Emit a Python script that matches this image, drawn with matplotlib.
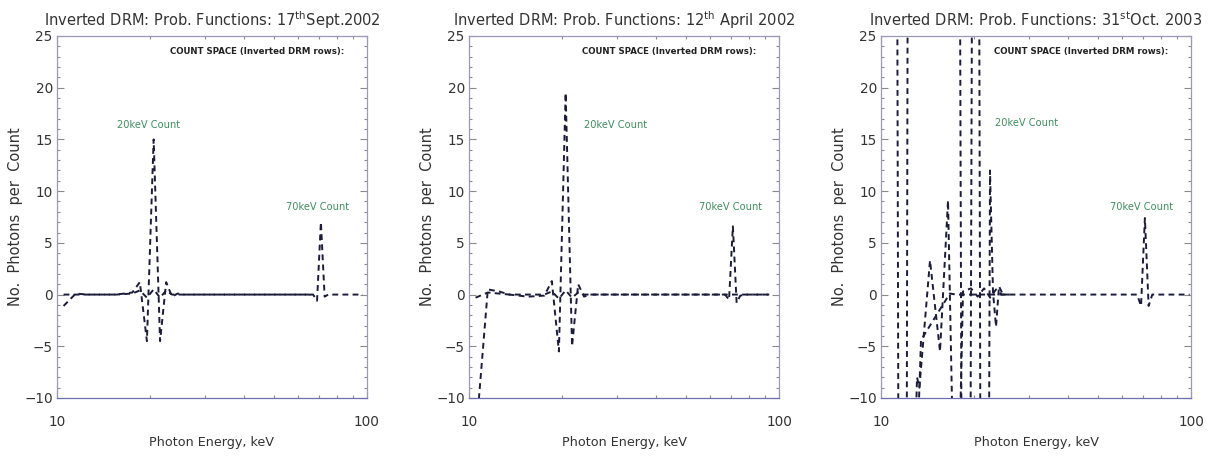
import matplotlib
matplotlib.use('Agg')
import matplotlib.pyplot as plt
from matplotlib import font_manager as fm
from matplotlib.ticker import FixedLocator, NullFormatter, FixedFormatter, MultipleLocator

# ---------------- data ----------------
titles = [
    r"Inverted DRM: Prob. Functions: 17$^{\rm th}$Sept.2002",
    r"Inverted DRM: Prob. Functions: 12$^{\rm th}$ April 2002",
    r"Inverted DRM: Prob. Functions: 31$^{\rm st}$Oct. 2003",
]
xlabel = "Photon Energy, keV"
ylabel = "No.  Photons  per  Count"
note = "COUNT SPACE (Inverted DRM rows):"
label20 = "20keV Count"
label70 = "70keV Count"
xticks = [10, 100]
xticklabels = ["10", "100"]
yticks = [-10, -5, 0, 5, 10, 15, 20, 25]

# panel 1 (17 Sept 2002)
p1_row20_e = [10.5, 11.5, 12.5, 13.5, 14.5, 15.5, 16.5, 17.5, 18.5, 19.5, 20.5, 21.5, 22.5,
              23.5, 24.5, 25.5, 27.5, 29.5, 33, 37, 41, 45, 49, 53, 57, 61, 65, 67]
p1_row20_v = [-1.1, 0.1, 0.0, 0.0, 0.0, 0.0, 0.1, 0.2, 1.2, -4.5, 15.0, -4.5, 1.2,
              -0.2, 0.1, 0.0, 0.0, 0.0, 0.0, 0.0, 0.0, 0.0, 0.0, 0.0, 0.0, 0.0, 0.0, -0.1]
p1_row70_e = [10.5, 11.5, 13.5, 15.5, 17.5, 18.5, 19.5, 20.5, 21.5, 22.5, 23.5, 25.5, 29.5,
              35, 41, 47, 53, 59, 65, 67, 69, 71, 73, 75, 79, 83, 87, 91, 95, 97]
p1_row70_v = [0.0, 0.0, 0.0, 0.0, 0.1, 0.4, -0.3, 0.5, -0.3, 0.4, 0.0, 0.0, 0.0,
              0.0, 0.0, 0.0, 0.0, 0.0, 0.0, 0.0, -0.6, 7.0, -0.2, 0.0, 0.0, 0.0, 0.0, 0.0, 0.0, 0.0]

# panel 2 (12 April 2002)
p2_row20_e = [10.5, 11.5, 12.5, 13.5, 15.5, 17.5, 18.5, 19.5, 20.5, 21.5, 22.5, 23.5, 24.5,
              27.5, 33, 41, 49, 57, 65, 73, 81, 89, 93]
p2_row20_v = [-14.0, 0.5, 0.3, 0.0, -0.2, -0.1, 1.3, -5.5, 19.5, -5.0, 1.0, -0.2, 0.0,
              0.0, 0.0, 0.0, 0.0, 0.0, 0.0, 0.0, 0.0, 0.0, 0.0]
p2_row70_e = [10.5, 11.5, 13.5, 15.5, 17.5, 18.5, 19.5, 20.5, 21.5, 22.5, 23.5, 27.5,
              35, 45, 55, 63, 67, 69, 71, 73, 75, 79, 85, 93]
p2_row70_v = [-0.3, 0.2, 0.0, 0.0, 0.0, 0.3, -0.4, 0.4, -0.3, 0.2, 0.0, 0.0,
              0.0, 0.0, 0.0, 0.0, 0.0, -0.5, 6.6, -0.8, -0.1, 0.0, 0.0, 0.0]

# panel 3 (31 Oct 2003)  -- rows oscillate strongly, off-scale values estimated
p3_row20_e = [10.93, 11.78, 12.50, 17.46, 18.80, 20.25, 21.49, 22.47, 22.98, 23.50, 24.02, 24.75, 26.0]
p3_row20_v = [200.0, -200.0, 200.0, 150.0, -150.0, 150.0, -150.0, 12.0, 0.2, -3.1, 0.8, 0.0, 0.0]
p3_rowmid_e = [12.45, 13.07, 13.30, 14.39, 15.50, 16.45, 17.46, 18.39, 19.5, 20.5, 21.5, 22.5, 23.5, 24.5, 25.5]
p3_rowmid_v = [-30.0, -8.0, -9.0, 3.3, -5.5, 9.1, -30.0, 0.3, 0.6, -0.2, 0.6, -0.3, 0.5, 0.0, 0.0]
p3_row70_e = [12.6, 13.46, 16.67, 17.5, 20.5, 25.5, 31, 39, 47, 55, 63, 67, 69, 71, 73, 75, 81, 87, 93, 99]
p3_row70_v = [-30.0, -4.4, 0.1, 0.0, 0.0, 0.0, 0.0, 0.0, 0.0, 0.0, 0.0, 0.0, -1.1, 7.4, -1.1, 0.0, 0.0, 0.0, 0.0, 0.0]

panels = [
    [(p1_row20_e, p1_row20_v), (p1_row70_e, p1_row70_v)],
    [(p2_row20_e, p2_row20_v), (p2_row70_e, p2_row70_v)],
    [(p3_row20_e, p3_row20_v), (p3_rowmid_e, p3_rowmid_v), (p3_row70_e, p3_row70_v)],
]
# annotation placement (axes fraction)
pos20 = [(0.194, 0.754), (0.371, 0.754), (0.368, 0.76)]
pos70 = [(0.739, 0.528), (0.742, 0.528), (0.739, 0.528)]

# ---------------- style ----------------
names = {f.name for f in fm.fontManager.ttflist}
NARROW = 'Liberation Sans Narrow' if 'Liberation Sans Narrow' in names else 'DejaVu Sans'
HAVE_NARROW = NARROW == 'Liberation Sans Narrow'

plt.rcParams['mathtext.fontset'] = 'custom'
plt.rcParams['mathtext.rm'] = 'DejaVu Sans'

W, H = 1212, 457
fig = plt.figure(figsize=(W / 100, H / 100), dpi=100)
fig.patch.set_facecolor('white')

lefts = [57, 469, 881]
ax_w, top_px, bot_px = 310, 36, 398
line_col = '#1b1b3a'
frame_col = '#9a9ab8'
green = '#3f8f5f'

title_fs = 10.5
tick_fs = 11.5 if HAVE_NARROW else 9.8
lab_fs = 11 if HAVE_NARROW else 9.2
ann_fs = 8.6 if HAVE_NARROW else 6.2
grn_fs = 9.3 if HAVE_NARROW else 7.1

for i, left in enumerate(lefts):
    ax = fig.add_axes([left / W, 1 - bot_px / H, ax_w / W, (bot_px - top_px) / H])
    for e, v in panels[i]:
        ax.plot(e, v, color=line_col, lw=1.4, linestyle=(0, (3.0, 2.2)))
    ax.set_xscale('log')
    ax.set_xlim(10, 100)
    ax.set_ylim(-10, 25)
    ax.xaxis.set_major_locator(FixedLocator(xticks))
    ax.xaxis.set_major_formatter(FixedFormatter(xticklabels))
    ax.xaxis.set_minor_locator(FixedLocator([20, 30, 40, 50, 60, 70, 80, 90]))
    ax.xaxis.set_minor_formatter(NullFormatter())
    ax.yaxis.set_major_locator(FixedLocator(yticks))
    ax.yaxis.set_minor_locator(MultipleLocator(1))
    ax.tick_params(which='both', direction='in', top=True, right=True, color='#8a8a8a', width=0.8)
    ax.tick_params(which='major', length=5)
    ax.tick_params(which='minor', length=2.5)
    ax.tick_params(axis='x', which='major', pad=12, labelsize=tick_fs, labelcolor='#333333')
    ax.tick_params(axis='y', which='major', pad=3, labelsize=tick_fs, labelcolor='#333333')
    for lbl in ax.get_xticklabels() + ax.get_yticklabels():
        lbl.set_family(NARROW)
    for s in ax.spines.values():
        s.set_color(frame_col)
        s.set_linewidth(0.9)
    ax.spines['bottom'].set_color('#6e6eb4')

    ax.set_xlabel(xlabel, fontsize=lab_fs, family=NARROW, color='#333333')
    ax.xaxis.set_label_coords(0.5, -0.124)
    ax.xaxis.label.set_va('center')
    ax.set_ylabel(ylabel, fontsize=10.5, family='DejaVu Sans', color='#333333')
    ax.yaxis.set_label_coords(-0.135, 0.5)
    ax.yaxis.label.set_va('center')

    ax.text(0.363, 0.956, note, transform=ax.transAxes, fontsize=ann_fs, family=NARROW,
            fontweight='bold', color='#222222', ha='left', va='center')
    ax.text(pos20[i][0], pos20[i][1], label20, transform=ax.transAxes, fontsize=grn_fs,
            family=NARROW, color=green, ha='left', va='center')
    ax.text(pos70[i][0], pos70[i][1], label70, transform=ax.transAxes, fontsize=grn_fs,
            family=NARROW, color=green, ha='left', va='center')

    fig.text((left + ax_w / 2) / W, 1 - 20 / H, titles[i], fontsize=title_fs,
             family='DejaVu Sans', color='#333333', ha='center', va='center')

fig.savefig('out.png', dpi=100)
